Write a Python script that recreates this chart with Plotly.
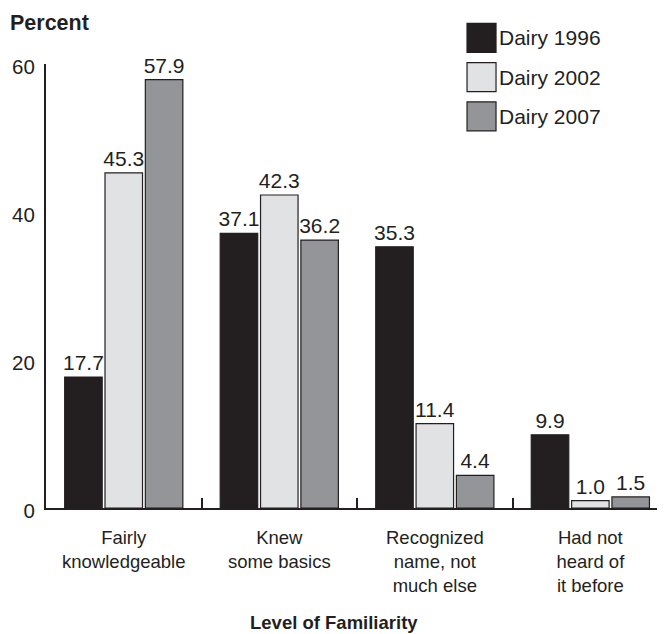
import plotly.graph_objects as go

# data
categories = ["Fairly<br>knowledgeable", "Knew<br>some basics",
              "Recognized<br>name, not<br>much else", "Had not<br>heard of<br>it before"]
dairy_1996 = [17.7, 37.1, 35.3, 9.9]
dairy_2002 = [45.3, 42.3, 11.4, 1.0]
dairy_2007 = [57.9, 36.2, 4.4, 1.5]
series_names = ["Dairy 1996", "Dairy 2002", "Dairy 2007"]
y_ticks = [0, 20, 40, 60]

INK = "#231f20"
COLORS = ["#231f20", "#e1e2e4", "#939598"]
FONT = "Liberation Sans, Arial, Helvetica, sans-serif"

x_pos = list(range(len(categories)))

fig = go.Figure()
for name, vals, col in zip(series_names, [dairy_1996, dairy_2002, dairy_2007], COLORS):
    fig.add_trace(go.Bar(
        x=x_pos,
        y=vals,
        name=name,
        marker=dict(color=col, line=dict(color=INK, width=1.2)),
        text=[f"{v:.1f}" for v in vals],
        textposition="outside",
        textfont=dict(family=FONT, size=21, color=INK),
        constraintext="none",
        cliponaxis=False,
        showlegend=False,
    ))

# legend drawn as big square swatches, like the original
shapes = []
annotations = []
for i, (name, col) in enumerate(zip(series_names, COLORS)):
    yc = 1.059 - i * 0.0885
    shapes.append(dict(
        type="rect", xref="paper", yref="paper",
        xsizemode="pixel", ysizemode="pixel",
        xanchor=0.7036, yanchor=yc,
        x0=-14.5, x1=14.5, y0=-14.5, y1=14.5,
        fillcolor=col, line=dict(color=INK, width=1.2),
    ))
    annotations.append(dict(
        text=name, xref="paper", yref="paper", x=0.729, y=yc,
        xanchor="left", yanchor="middle", showarrow=False,
        font=dict(family=FONT, size=21, color=INK),
    ))

annotations.append(dict(
    text="<b>Percent</b>", xref="paper", yref="paper", x=-0.062, y=1.092,
    xanchor="left", yanchor="middle", showarrow=False,
    font=dict(family=FONT, size=21.5, color=INK),
))
annotations.append(dict(
    text="<b>Level of Familiarity</b>", xref="paper", yref="paper", x=0.465, y=-0.257,
    xanchor="center", yanchor="middle", showarrow=False,
    font=dict(family=FONT, size=18.5, color=INK),
))

# page body adds an 8px offset, so the margins are trimmed by that much
fig.update_layout(
    width=665, height=634,
    margin=dict(l=38, r=8, t=56, b=134),
    plot_bgcolor="white", paper_bgcolor="white",
    barmode="group", bargap=0.222, bargroupgap=0.07,
    shapes=shapes, annotations=annotations,
    font=dict(family=FONT, color=INK),
    xaxis=dict(
        range=[-0.5, 3.48], automargin=False,
        tickmode="array", tickvals=x_pos, ticktext=categories,
        ticks="", showgrid=False, zeroline=False,
        showline=True, linecolor=INK, linewidth=2,
        tickfont=dict(family=FONT, size=18.5, color=INK),
        ticklabelstandoff=12,
        minor=dict(tickmode="array", tickvals=[0.5, 1.5, 2.5],
                   ticks="inside", ticklen=10, tickwidth=2, tickcolor=INK,
                   showgrid=False),
    ),
    yaxis=dict(
        range=[0, 60], automargin=False, tickvals=y_ticks, ticks="",
        showgrid=False, zeroline=False,
        showline=True, linecolor=INK, linewidth=2,
        tickfont=dict(family=FONT, size=20.5, color=INK),
        ticklabelstandoff=5, ticklabelshift=3,
    ),
)

fig.write_html("out.html")
